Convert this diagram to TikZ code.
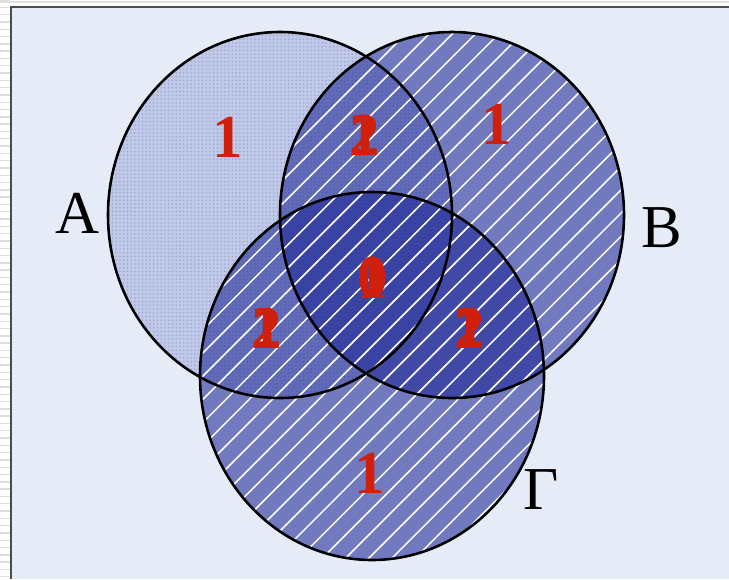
\documentclass[tikz,border=0pt]{standalone}
\usepackage{fontspec}
\setmainfont{Liberation Serif}
\usetikzlibrary{patterns.meta}
\definecolor{bgblue}{HTML}{E6ECF7}
\definecolor{setblue}{RGB}{30,40,150}
\definecolor{setpale}{RGB}{150,160,215}
\definecolor{numred}{HTML}{D0200C}
\begin{document}
\begin{tikzpicture}[x=0.03cm,y=-0.03cm,
  setline/.style={line width=2.2pt},
  stripes/.style={pattern={Lines[angle=45,distance=14pt,line width=1.3pt]},pattern color=white,fill opacity=0.38},
  dotty/.style={pattern={Dots[radius=0.75pt,distance=3.2pt]},pattern color=setblue,fill opacity=0.22},
  num/.style={text=numred,font=\fontsize{52}{52}\selectfont\bfseries},
  setname/.style={font=\fontsize{52}{52}\selectfont}]
\useasboundingbox (0,0) rectangle (729,579);
\fill[white] (0,0) rectangle (729,579);
% frame
\foreach \y in {0,7.3,...,579} \draw[black!13,line width=1.2pt] (0,\y) -- (10,\y);
\draw[black!12,line width=1pt] (0,2) -- (729,2);
\fill[bgblue] (11,7) rectangle (729,579);
\draw[black!70,line width=1.3pt] (11,579) -- (11,7) -- (729,7);
% sets
\coordinate (cA) at (280,215);
\coordinate (cB) at (452,215);
\coordinate (cG) at (372,376);
\fill[setpale,fill opacity=0.45] (cA) ellipse [x radius=172, y radius=183];
\fill[dotty] (cA) ellipse [x radius=172, y radius=183];
\fill[setblue,fill opacity=0.58] (cB) ellipse [x radius=172, y radius=183];
\fill[stripes] (cB) ellipse [x radius=172, y radius=183];
\fill[setblue,fill opacity=0.58] (cG) ellipse [x radius=172, y radius=184];
\fill[stripes] (cG) ellipse [x radius=172, y radius=184];
\draw[setline] (cA) ellipse [x radius=172, y radius=183];
\draw[setline] (cB) ellipse [x radius=172, y radius=183];
\draw[setline] (cG) ellipse [x radius=172, y radius=184];
% labels
\node[setname] (labA) at (77,213) {A};
\node[setname] (labB) at (662,228) {B};
\node[setname] (labG) at (541,490) {Γ};
% counts
\node[num] (nA) at (228,137) {1};
\node[num] (nB) at (497,124) {1};
\node[num] (nG) at (370,473) {1};
\node[num] (nABa) at (365,135) {1};
\node[num] (nAB) at (365,135) {2};
\node[num] (nAGa) at (267,328) {1};
\node[num] (nAG) at (267,328) {2};
\node[num] (nBGa) at (470,328) {1};
\node[num] (nBG) at (470,328) {2};
\node[num] (nABGa) at (373,278) {1};
\node[num] (nABG) at (373,278) {0};
\end{tikzpicture}
\end{document}
